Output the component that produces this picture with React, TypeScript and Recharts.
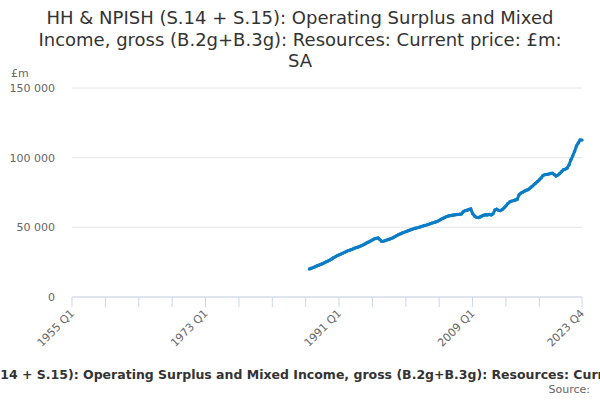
import React from 'react';
import { LineChart, Line, XAxis, YAxis, CartesianGrid } from 'recharts';

// quarters shown on the axis run from 1955 Q1 to 2023 Q4
const axisStartYear = 1955;
const axisEndYear = 2023;
// the series itself starts in 1987 Q1
const seriesStartYear = 1987;

// £m, seasonally adjusted, one row per year (Q1..Q4)
const values: number[] = [
  20100, 20600, 21100, 21700, // 1987
  22300, 22800, 23300, 23900, // 1988
  24500, 25200, 25800, 26500, // 1989
  27300, 28200, 28900, 29700, // 1990
  30200, 30800, 31400, 32000, // 1991
  32700, 33300, 33700, 34200, // 1992
  34800, 35300, 35700, 36200, // 1993
  36800, 37400, 38100, 38900, // 1994
  39500, 40200, 40900, 41700, // 1995
  42100, 42400, 41200, 39900, // 1996
  40100, 40500, 41000, 41400, // 1997
  41900, 42500, 43200, 44000, // 1998
  44700, 45300, 45900, 46400, // 1999
  46900, 47400, 47900, 48400, // 2000
  48900, 49300, 49600, 50000, // 2001
  50400, 50900, 51300, 51600, // 2002
  52000, 52500, 53000, 53400, // 2003
  53800, 54300, 55000, 55800, // 2004
  56400, 57100, 57700, 58100, // 2005
  58400, 58700, 58900, 59100, // 2006
  59300, 59400, 59600, 61200, // 2007
  62000, 62300, 62800, 63200, // 2008
  60000, 58200, 57300, 57000, // 2009
  57400, 58100, 58700, 59000, // 2010
  58800, 59300, 58900, 59700, // 2011
  62400, 63000, 62200, 62000, // 2012
  62800, 64000, 65400, 67000, // 2013
  68200, 68800, 69200, 69600, // 2014
  70000, 73200, 74500, 75200, // 2015
  76000, 76600, 77100, 78200, // 2016
  79300, 80500, 81700, 82900, // 2017
  84100, 85500, 87200, 87800, // 2018
  88000, 88200, 88600, 88800, // 2019
  87900, 86800, 87500, 88600, // 2020
  90000, 91300, 91800, 92500, // 2021
  94800, 98500, 101200, 104500, // 2022
  108400, 110600, 112800, 112600, // 2023
];

const yTicks = [0, 50000, 100000, 150000];
const xTickIndexes = [0, 18, 36, 54, 72, 90, 108, 126, 144, 162, 180, 198, 216, 234, 252, 275];
const xLabelIndexes = [0, 72, 144, 216, 275];

const title1 = 'HH & NPISH (S.14 + S.15): Operating Surplus and Mixed';
const title2 = 'Income, gross (B.2g+B.3g): Resources: Current price: £m:';
const title3 = 'SA';
const footer =
  'HH & NPISH (S.14 + S.15): Operating Surplus and Mixed Income, gross (B.2g+B.3g): Resources: Current price: £m: SA';

const quarters: string[] = [];
for (let y = axisStartYear; y <= axisEndYear; y++) {
  for (let q = 1; q <= 4; q++) quarters.push(`${y} Q${q}`);
}
const offset = (seriesStartYear - axisStartYear) * 4;
const data = quarters.map((q, i) => ({
  i,
  q,
  value: i >= offset && i - offset < values.length ? values[i - offset] : null,
}));

const font = "'DejaVu Sans', sans-serif";
const lineColor = '#0a7dc6';

const fmt = (v: number) => String(v).replace(/\B(?=(\d{3})+(?!\d))/g, ' ');

const XTick = (props: any) => {
  const { x, y, payload } = props;
  if (!xLabelIndexes.includes(payload.value)) return null;
  const tx = x + 3;
  const ty = y + 5;
  return (
    <text
      x={tx}
      y={ty}
      transform={`rotate(-45, ${tx}, ${ty})`}
      textAnchor="end"
      fontSize={11}
      fill="#666666"
      fontFamily={font}
    >
      {quarters[payload.value]}
    </text>
  );
};

const App: React.FC = () => {
  return (
    <div
      style={{
        position: 'absolute',
        top: 0,
        left: 0,
        width: 600,
        height: 400,
        overflow: 'hidden',
        background: '#ffffff',
        fontFamily: font,
      }}
    >
      <LineChart
        width={600}
        height={400}
        data={data}
        margin={{ top: 88, right: 18, left: 0, bottom: 43 }}
      >
        <CartesianGrid vertical={false} stroke="#e6e6e6" />
        <XAxis
          dataKey="i"
          type="number"
          domain={[0, quarters.length - 1]}
          ticks={xTickIndexes}
          interval={0}
          height={60}
          stroke="#ccd6eb"
          tickSize={10}
          tickMargin={2}
          tick={<XTick />}
        />
        <YAxis
          width={72}
          domain={[0, 150000]}
          ticks={yTicks}
          axisLine={false}
          tickLine={false}
          tickSize={6}
          tickMargin={11}
          tickFormatter={fmt}
          tick={{ fontSize: 11, fill: '#666666', fontFamily: font }}
        />
        <Line
          type="linear"
          dataKey="value"
          stroke={lineColor}
          strokeWidth={3}
          dot={{ r: 1.7, fill: lineColor, stroke: 'none' }}
          isAnimationActive={false}
        />
      </LineChart>

      <div
        style={{
          position: 'absolute',
          top: 7,
          left: 0,
          width: 600,
          textAlign: 'center',
          fontSize: 18,
          lineHeight: '21.5px',
          color: '#333333',
          whiteSpace: 'nowrap',
        }}
      >
        <div>{title1}</div>
        <div>{title2}</div>
        <div>{title3}</div>
      </div>

      <div
        style={{
          position: 'absolute',
          top: 67,
          left: 11,
          fontSize: 11,
          lineHeight: '13px',
          color: '#666666',
        }}
      >
        £m
      </div>

      <div
        style={{
          position: 'absolute',
          top: 367,
          left: 309,
          transform: 'translateX(-50%)',
          whiteSpace: 'nowrap',
          fontSize: 12.5,
          fontWeight: 'bold',
          lineHeight: '15px',
          color: '#333333',
        }}
      >
        {footer}
      </div>

      <div
        style={{
          position: 'absolute',
          top: 383,
          right: 10,
          fontSize: 11,
          lineHeight: '13px',
          color: '#666666',
        }}
      >
        Source:
      </div>
    </div>
  );
};

export default App;
